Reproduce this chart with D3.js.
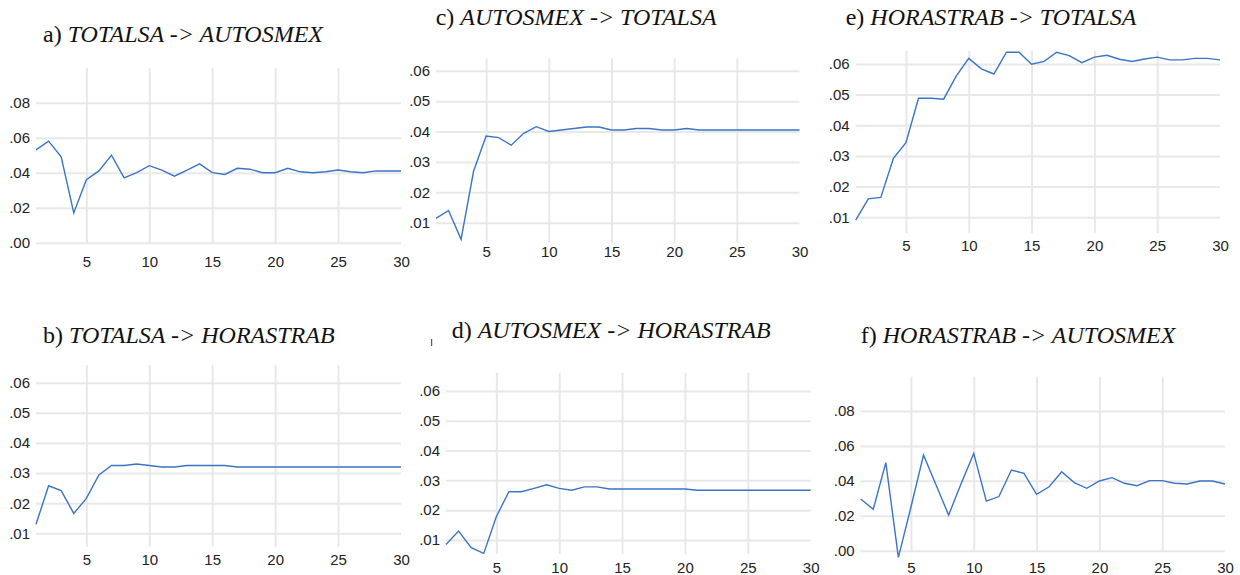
<!DOCTYPE html>
<html>
<head>
<meta charset="utf-8">
<script src="https://cdn.jsdelivr.net/npm/d3@7"></script>
<style>
    body { margin: 0; background: #fff; }
    svg { display: block; }
    .tick text { font-family: "Liberation Sans", Arial, sans-serif; font-size: 15px; fill: #222; }
    .tick line { stroke: #e8e8e8; stroke-width: 2; }
    .title { font-family: "Liberation Serif", "Times New Roman", serif; font-size: 24px; fill: #111; }
</style>
</head>
<body>
<svg id="drawing_region"></svg>
<script>
// lag periods on the x axis
const lags = [1, 2, 3, 4, 5, 6, 7, 8, 9, 10, 11, 12, 13, 14, 15,
              16, 17, 18, 19, 20, 21, 22, 23, 24, 25, 26, 27, 28, 29, 30];
const xTicks = [5, 10, 15, 20, 25, 30];

// response series
const totalsaAutosmex = [.053, .058, .049, .017, .036, .041, .050, .037, .040, .044,
                         .0415, .038, .0415, .045, .040, .039, .0425, .042, .040, .040,
                         .0425, .0405, .040, .0405, .0415, .0405, .040, .041, .041, .041];
const totalsaHorastrab = [.013, .0258, .0242, .0166, .0216, .0294, .0325, .0325, .033, .0325,
                          .032, .032, .0325, .0325, .0325, .0325, .032, .032, .032, .032,
                          .032, .032, .032, .032, .032, .032, .032, .032, .032, .032];
const autosmexTotalsa = [.0114, .014, .0045, .027, .0385, .038, .0355, .0394, .0416, .040,
                         .0405, .041, .0415, .0415, .0405, .0405, .041, .041, .0405, .0405,
                         .041, .0405, .0405, .0405, .0405, .0405, .0405, .0405, .0405, .0405];
const autosmexHorastrab = [.0085, .013, .0074, .0055, .0178, .0262, .0262, .0273, .0285, .0273,
                           .0267, .0278, .0278, .0271, .0271, .0271, .0271, .0271, .0271, .0271,
                           .0267, .0267, .0267, .0267, .0267, .0267, .0267, .0267, .0267, .0267];
const horastrabTotalsa = [.0091, .016, .0165, .0292, .0343, .0488, .0488, .0485, .056, .0618,
                          .0584, .0567, .0638, .0638, .0599, .0608, .0638, .0627, .0604, .0622,
                          .0628, .0615, .0608, .0616, .0622, .0613, .0613, .0618, .0618, .0613];
const horastrabAutosmex = [.0296, .0237, .0504, -.0038, .025, .0548, .0376, .0204, .0385, .0557,
                           .0284, .031, .0462, .0443, .0323, .0366, .0452, .039, .0357, .0399,
                           .0418, .0386, .0372, .0401, .0401, .0386, .0382, .0399, .0399, .0382];

// y tick labels
const ticksWide = [0, .02, .04, .06, .08];
const ticksNarrow = [.01, .02, .03, .04, .05, .06];

const panels = [
    { label: "a)", name: "TOTALSA -> AUTOSMEX", values: totalsaAutosmex, yTicks: ticksWide,
      domain: [0, .0998], left: 36, right: 401, top: 68, bottom: 242.7, titleX: 43, titleY: 41.5, xLabelY: 267 },
    { label: "b)", name: "TOTALSA -> HORASTRAB", values: totalsaHorastrab, yTicks: ticksNarrow,
      domain: [.00555, .0659], left: 36, right: 401, top: 365, bottom: 546.7, titleX: 43, titleY: 343, xLabelY: 565 },
    { label: "c)", name: "AUTOSMEX -> TOTALSA", values: autosmexTotalsa, yTicks: ticksNarrow,
      domain: [.0033, .0641], left: 436, right: 799.5, top: 58.3, bottom: 243, titleX: 435.7, titleY: 25, xLabelY: 257 },
    { label: "d)", name: "AUTOSMEX -> HORASTRAB", values: autosmexHorastrab, yTicks: ticksNarrow,
      domain: [.0053, .0661], left: 446, right: 810.7, top: 372.7, bottom: 554, titleX: 451.7, titleY: 338.3, xLabelY: 573 },
    { label: "e)", name: "HORASTRAB -> TOTALSA", values: horastrabTotalsa, yTicks: ticksNarrow,
      domain: [.00488, .0642], left: 855.7, right: 1220, top: 51, bottom: 233, titleX: 845.7, titleY: 25, xLabelY: 251 },
    { label: "f)", name: "HORASTRAB -> AUTOSMEX", values: horastrabAutosmex, yTicks: ticksWide,
      domain: [0, .0996], left: 860.7, right: 1225, top: 376.7, bottom: 550.7, titleX: 860.7, titleY: 343.3, xLabelY: 573 }
];

const svg = d3.select("#drawing_region")
    .attr("width", 1240)
    .attr("height", 575);

const fmt = v => d3.format(".2f")(v).replace(/^(-?)0\./, "$1.");

panels.forEach(p => {
    const w = p.right - p.left;
    const h = p.bottom - p.top;

    const xscale = d3.scaleLinear().domain([1, 30]).range([0, w]);
    const yscale = d3.scaleLinear().domain(p.domain).range([h, 0]);

    const g = svg.append("g")
        .attr("transform", `translate(${p.left}, ${p.top})`);

    const yaxis = d3.axisLeft(yscale)
        .tickValues(p.yTicks)
        .tickFormat(fmt)
        .tickSize(-w)
        .tickPadding(6);

    const xaxis = d3.axisBottom(xscale)
        .tickValues(xTicks)
        .tickSize(-h)
        .tickPadding(p.xLabelY - p.bottom - 10.6);

    const ygroup = g.append("g").call(yaxis);
    ygroup.select(".domain").remove();

    const xgroup = g.append("g")
        .attr("transform", `translate(0, ${h})`)
        .call(xaxis);
    xgroup.select(".domain").remove();
    xgroup.selectAll(".tick").filter(d => d === 30).select("line").remove();

    const line = d3.line()
        .x((d, i) => xscale(lags[i]))
        .y(d => yscale(d));

    g.append("path")
        .datum(p.values)
        .attr("fill", "none")
        .attr("stroke", "#3b74c6")
        .attr("stroke-width", 1.4)
        .attr("d", line);

    const t = svg.append("text")
        .attr("class", "title")
        .attr("x", p.titleX)
        .attr("y", p.titleY);
    t.append("tspan").text(p.label + " ");
    t.append("tspan").attr("font-style", "italic").text(p.name);
});

// stray mark left of panel d title
svg.append("line")
    .attr("x1", 431.7).attr("x2", 431.7)
    .attr("y1", 339).attr("y2", 346)
    .attr("stroke", "#333")
    .attr("stroke-width", 1);
</script>
</body>
</html>
